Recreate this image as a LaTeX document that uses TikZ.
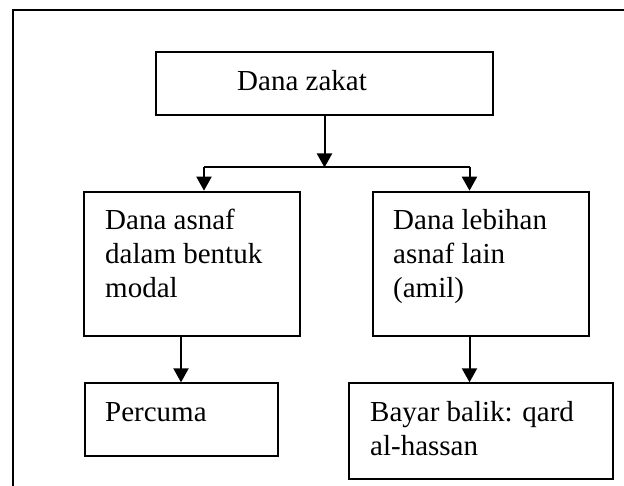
\documentclass[tikz,border=0pt]{standalone}
\usepackage{fontspec}
\setmainfont{Liberation Serif}
\usetikzlibrary{arrows.meta}
\begin{document}
\begin{tikzpicture}[x=1pt,y=-1pt,
  box/.style={draw=black,line width=2pt,rectangle,inner sep=0pt},
  txt/.style={inner sep=0pt,anchor=base west,align=left,font=\fontsize{29}{34}\selectfont},
  arr/.style={line width=2pt,-{Triangle[length=14pt,width=15pt]}},
  ln/.style={line width=2pt}]
\useasboundingbox (0,0) rectangle (624,486);
\fill[white] (0,0) rectangle (624,486);
% outer frame (top and left only)
\coordinate (ftr) at (624,10);
\coordinate (ftl) at (13,10);
\coordinate (fbl) at (13,486);
\draw[line width=2pt] (ftr) -- (ftl) -- (fbl);
% boxes
\node[box,minimum width=337pt,minimum height=63pt] (zakat) at (324.5,83.5) {};
\node[box,minimum width=216pt,minimum height=144pt] (asnaf) at (192.4,263.7) {};
\node[box,minimum width=216pt,minimum height=144pt] (lebihan) at (481,263.7) {};
\node[box,minimum width=193pt,minimum height=72.7pt] (percuma) at (181,419.7) {};
\node[box,minimum width=264pt,minimum height=96pt] (bayar) at (480.7,431.3) {};
% texts (base anchor = baseline of last line)
\node[txt] (tzakat) at (237,90.7) {Dana zakat};
\node[txt] (tasnaf) at (105,297.5) {Dana asnaf\\dalam bentuk\\modal};
\node[txt] (tlebihan) at (393,297.5) {Dana lebihan\\asnaf lain\\(amil)};
\node[txt] (tpercuma) at (105,421.7) {Percuma};
\node[txt] (tbayar) at (370,455) {Bayar balik: qard\\al-hassan};
% connectors
\coordinate (j) at (324.5,167.5);
\coordinate (jl) at (204,167.5);
\coordinate (jr) at (469.5,167.5);
\draw[arr] (zakat.south) -- (j);
\draw[ln] (jl) -- (jr);
\draw[arr] (jl) -- (jl |- asnaf.north);
\draw[arr] (jr) -- (jr |- lebihan.north);
\draw[arr] (percuma.north |- asnaf.south) -- (percuma.north);
\draw[arr] (jr |- lebihan.south) -- (jr |- bayar.north);
\end{tikzpicture}
\end{document}
